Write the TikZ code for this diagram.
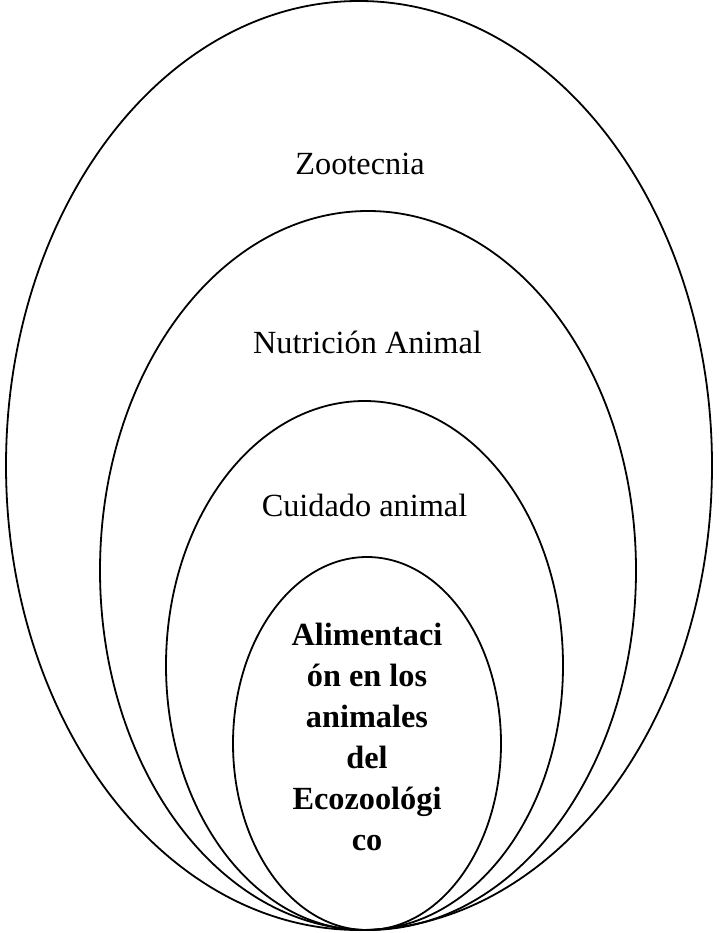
\documentclass[tikz,border=0pt]{standalone}
\usepackage{fontspec}
\setmainfont{Liberation Serif}
\usetikzlibrary{shapes.geometric}
\begin{document}
\begin{tikzpicture}[x=1pt,y=-1pt,
  ring/.style={draw=black,line width=1.8pt,ellipse,inner sep=0pt},
  lab/.style={anchor=base,inner sep=0pt,font=\fontsize{32.3}{41}\selectfont}]
\useasboundingbox (0,0) rectangle (718,933);
\node[ring,minimum width=706pt,minimum height=929pt] (zoo) at (359,465.5) {};
\node[ring,minimum width=536pt,minimum height=719pt] (nut) at (368,570.5) {};
\node[ring,minimum width=397pt,minimum height=529pt] (cui) at (364.5,665.5) {};
\node[ring,minimum width=268pt,minimum height=373pt] (ali) at (367,743.5) {};
\node[lab] (tzoo) at (360,175) {Zootecnia};
\node[lab] (tnut) at (367.5,353) {Nutrición Animal};
\node[lab] (tcui) at (364.5,516) {Cuidado animal};
\node[lab,font=\fontsize{32.3}{41}\selectfont\bfseries,align=center,anchor=north] (tali) at (367,623) {Alimentaci\\ón en los\\animales\\del\\Ecozoológi\\co};
\end{tikzpicture}
\end{document}
